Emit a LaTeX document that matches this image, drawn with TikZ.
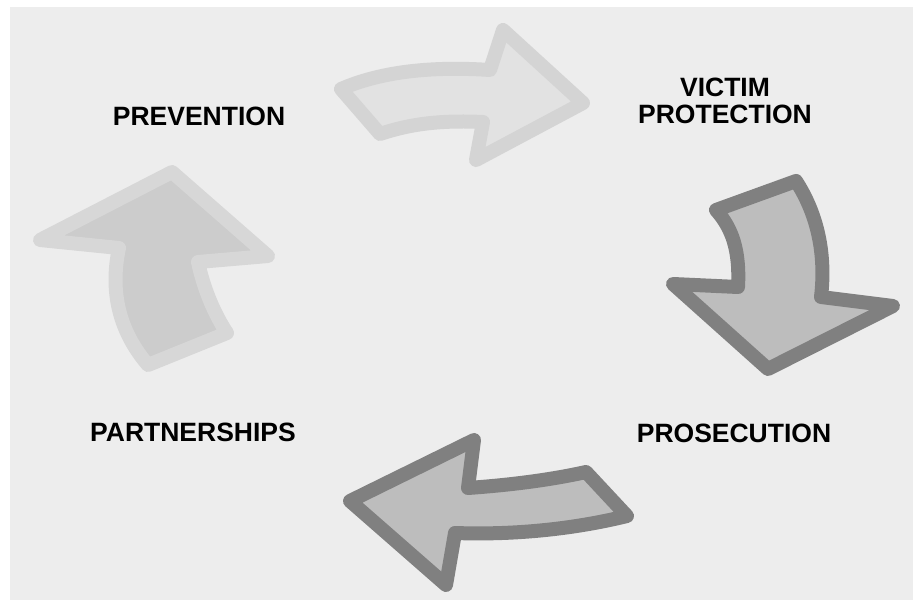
\documentclass[tikz,border=0pt]{standalone}
\usepackage{fontspec}
\setmainfont{Liberation Sans}
\begin{document}
\begin{tikzpicture}[x=1pt,y=-1pt,
  lbl/.style={font=\fontsize{26.5}{27}\selectfont\bfseries, text=black, inner sep=0pt, align=center},
  lightA/.style={draw=arrLightStroke, fill=arrLightFill, line width=14pt, line join=round},
  lightB/.style={draw=arrLeftStroke, fill=arrLeftFill, line width=14pt, line join=round},
  darkA/.style={draw=arrDarkStroke, fill=arrDarkFill, line width=14pt, line join=round}]
\definecolor{bg}{HTML}{EDEDED}
\definecolor{arrLightStroke}{HTML}{D4D4D4}
\definecolor{arrLightFill}{HTML}{E2E2E2}
\definecolor{arrLeftStroke}{HTML}{D7D7D7}
\definecolor{arrLeftFill}{HTML}{CCCCCC}
\definecolor{arrDarkStroke}{HTML}{808080}
\definecolor{arrDarkFill}{HTML}{BDBDBD}
\useasboundingbox (0,0) rectangle (913,601);
\fill[white] (0,0) rectangle (913,601);
\fill[bg] (10,7) rectangle (913,600);
% top arrow
\draw[lightA] (341,89) .. controls (380,72) and (430,66) .. (490,70) -- (503,30) -- (583,103) -- (476,160) -- (483,122) .. controls (440,120) and (410,124) .. (380,134) -- cycle;
% right arrow
\draw[darkA] (716,210) -- (796,181) .. controls (818,215) and (826,255) .. (821,297) -- (893,306) -- (768,369) -- (673,284) -- (738,287) .. controls (740,250) and (732,228) .. (716,210) -- cycle;
% bottom arrow
\draw[darkA] (586,472) -- (627,516) .. controls (570,530) and (510,535) .. (455,533) -- (446,585) -- (350,501) -- (474,440) -- (468,488) .. controls (510,485) and (550,480) .. (586,472) -- cycle;
% left arrow
\draw[lightB] (172,172) -- (268,256) -- (198,262) .. controls (204,290) and (215,315) .. (227,333) -- (148,365) .. controls (118,330) and (110,290) .. (119,248) -- (40,240) -- cycle;
% labels
\node[lbl] (prev) at (199,116) {PREVENTION};
\node[lbl] (vict) at (725,101) {VICTIM\\PROTECTION};
\node[lbl] (part) at (193,432) {PARTNERSHIPS};
\node[lbl] (pros) at (734,433) {PROSECUTION};
\end{tikzpicture}
\end{document}
